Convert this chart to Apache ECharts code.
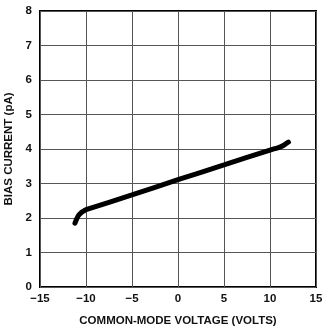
<!DOCTYPE html>
<html><head><meta charset="utf-8">
<script src="https://cdn.jsdelivr.net/npm/echarts@6/dist/echarts.min.js"></script>
<style>html,body{margin:0;padding:0;background:#fff}#c{width:322px;height:331px}</style>
</head><body><div id="c"></div>
<script>
const voltage = [-11.2, -11.0, -10.8, -10.5, -10.2, -10.0, -5, 0, 5, 10, 11, 11.5, 12];
const biasCurrent = [1.85, 1.98, 2.08, 2.16, 2.21, 2.24, 2.67, 3.11, 3.54, 3.97, 4.05, 4.11, 4.2];
const xTicks = [-15, -10, -5, 0, 5, 10, 15];
const yTicks = [0, 1, 2, 3, 4, 5, 6, 7, 8];
const xTitle = 'COMMON-MODE VOLTAGE (VOLTS)';
const yTitle = 'BIAS CURRENT (pA)';

const chart = echarts.init(document.getElementById('c'), null, {renderer: 'canvas'});
const font = 'Liberation Sans, Arial, sans-serif';
chart.setOption({
  animation: false,
  grid: {left: 40, top: 11, width: 276, height: 276, containLabel: false, outerBoundsMode: 'none',
    show: true, borderColor: '#000', borderWidth: 2, backgroundColor: 'transparent'},
  xAxis: {
    type: 'value', min: xTicks[0], max: xTicks[xTicks.length-1], interval: 5,
    name: xTitle, nameLocation: 'middle', nameGap: 28,
    nameTextStyle: {fontFamily: font, fontSize: 11.5, fontWeight: 'bold', color: '#111'},
    axisLine: {show: false}, axisTick: {show: false},
    axisLabel: {fontFamily: font, fontSize: 11.5, fontWeight: 'bold', color: '#111', margin: 6,
      formatter: v => String(v).replace('-', '\u2212')},
    splitLine: {show: true, lineStyle: {color: '#555', width: 1}}
  },
  yAxis: {
    type: 'value', min: yTicks[0], max: yTicks[yTicks.length-1], interval: 1,
    name: yTitle, nameLocation: 'middle', nameGap: 24, nameRotate: 90,
    nameTextStyle: {fontFamily: font, fontSize: 11.5, fontWeight: 'bold', color: '#111'},
    axisLine: {show: false}, axisTick: {show: false},
    axisLabel: {fontFamily: font, fontSize: 11.5, fontWeight: 'bold', color: '#111', margin: 8},
    splitLine: {show: true, lineStyle: {color: '#555', width: 1}}
  },
  series: [{
    type: 'line', data: voltage.map((v, i) => [v, biasCurrent[i]]),
    smooth: 0.3, symbol: 'none',
    lineStyle: {color: '#000', width: 5, cap: 'round'}
  }]
});
</script></body></html>
